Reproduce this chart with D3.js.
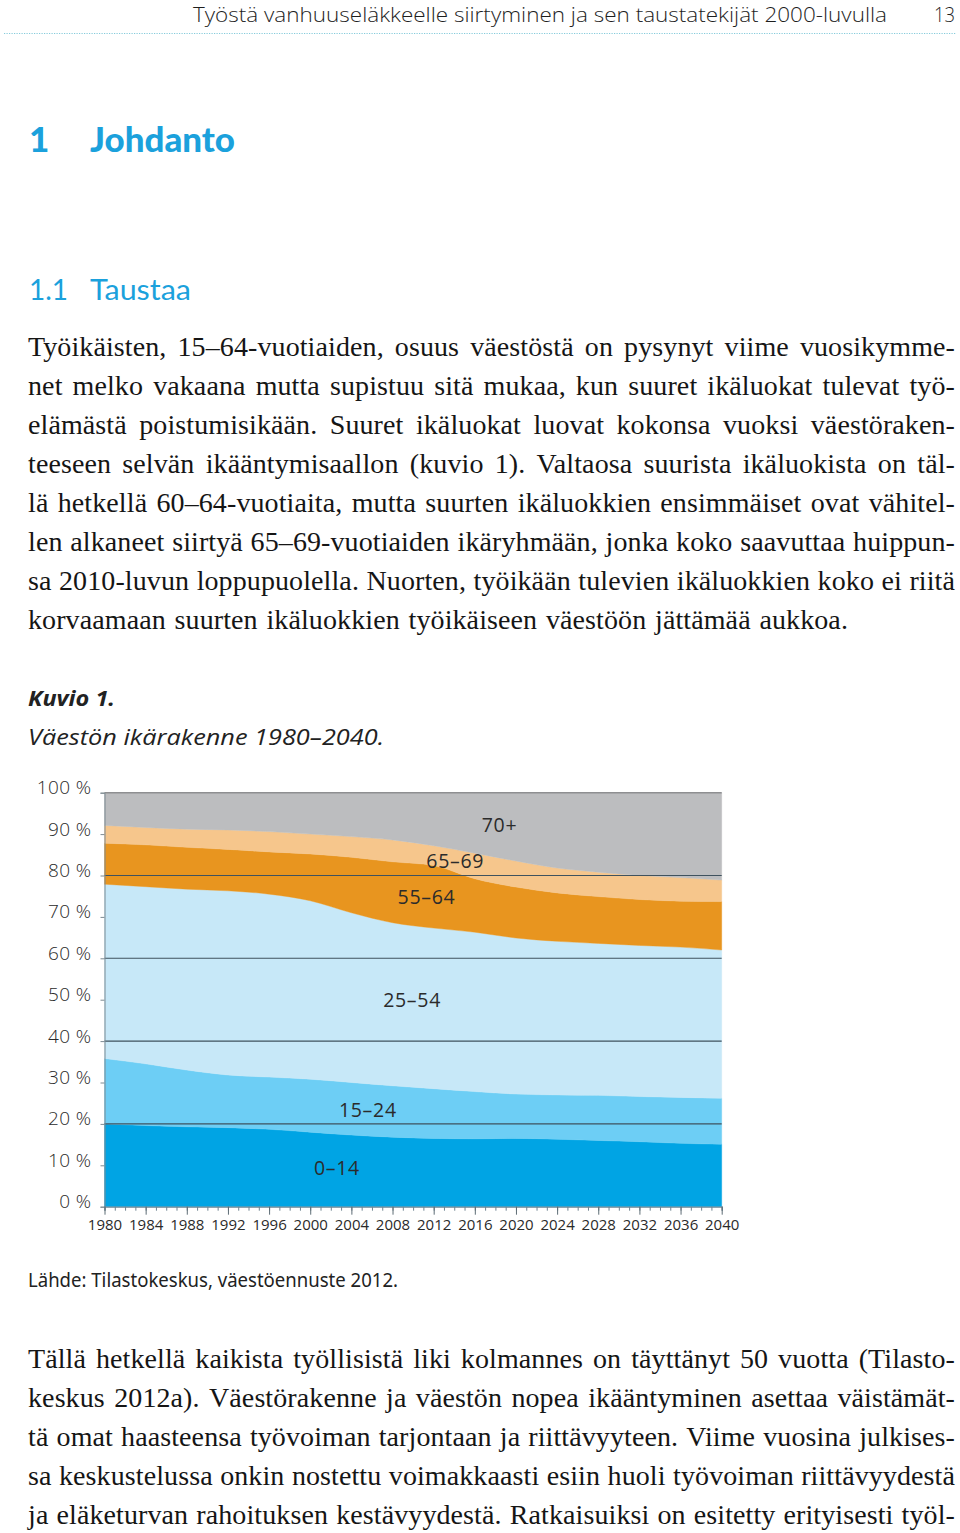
<!DOCTYPE html>
<html><head><meta charset="utf-8">
<script src="https://cdn.jsdelivr.net/npm/d3@7"></script>
<style>
html,body{margin:0;padding:0;background:#fff;}
svg{display:block;}
</style></head><body>
<svg id="page" width="960" height="1533"></svg>
<script>
// ---------- DATA (shares of population, %) ----------
const years = [1980,1984,1988,1992,1996,2000,2004,2008,2012,2016,2020,2024,2028,2032,2036,2040];
const ageGroups = ["0–14","15–24","25–54","55–64","65–69","70+"];
const share0_14  = [20.0,19.6,19.3,19.1,18.7,18.0,17.3,16.8,16.5,16.4,16.5,16.3,16.0,15.7,15.3,15.1];
const share15_24 = [15.8,14.9,13.7,12.7,12.6,12.8,12.7,12.4,12.0,11.4,10.7,10.7,10.9,10.9,11.1,11.1];
const share25_54 = [42.1,42.8,43.7,44.5,44.2,43.1,41.0,39.4,38.8,38.5,37.7,37.1,36.7,36.5,36.3,35.8];
const share55_64 = [9.9,10.1,10.1,10.0,10.2,11.3,13.4,14.7,15.1,12.9,12.3,11.7,11.3,11.1,11.1,11.7];
const share65_69 = [4.3,4.2,4.4,4.7,4.9,4.8,5.0,5.3,4.8,6.2,6.3,6.0,5.9,5.8,5.7,5.2];
const share70    = [7.9,8.4,8.8,9.0,9.4,10.0,10.6,11.4,12.8,14.6,16.5,18.2,19.2,20.0,20.5,21.1];
const yTickValues = [0,10,20,30,40,50,60,70,80,90,100];
const xTickLabels = [1980,1984,1988,1992,1996,2000,2004,2008,2012,2016,2020,2024,2028,2032,2036,2040];

// text content
const headerText = "Työstä vanhuuseläkkeelle siirtyminen ja sen taustatekijät 2000-luvulla";
const para1 = [
 "Työikäisten, 15–64-vuotiaiden, osuus väestöstä on pysynyt viime vuosikymme-",
 "net melko vakaana mutta supistuu sitä mukaa, kun suuret ikäluokat tulevat työ-",
 "elämästä poistumisikään. Suuret ikäluokat luovat kokonsa vuoksi väestöraken-",
 "teeseen selvän ikääntymisaallon (kuvio 1). Valtaosa suurista ikäluokista on täl-",
 "lä hetkellä 60–64-vuotiaita, mutta suurten ikäluokkien ensimmäiset ovat vähitel-",
 "len alkaneet siirtyä 65–69-vuotiaiden ikäryhmään, jonka koko saavuttaa huippun-",
 "sa 2010-luvun loppupuolella. Nuorten, työikään tulevien ikäluokkien koko ei riitä",
 "korvaamaan suurten ikäluokkien työikäiseen väestöön jättämää aukkoa."
];
const para2 = [
 "Tällä hetkellä kaikista työllisistä liki kolmannes on täyttänyt 50 vuotta (Tilasto-",
 "keskus 2012a). Väestörakenne ja väestön nopea ikääntyminen asettaa väistämät-",
 "tä omat haasteensa työvoiman tarjontaan ja riittävyyteen. Viime vuosina julkises-",
 "sa keskustelussa onkin nostettu voimakkaasti esiin huoli työvoiman riittävyydestä",
 "ja eläketurvan rahoituksen kestävyydestä. Ratkaisuiksi on esitetty erityisesti työl-"
];

// ---------- STYLE ----------
const colors = ["#00a4e4","#6dcef5","#c7e8f8","#e8951f","#f6c68c","#bcbdbf"];
const blue = "#1ba1dc";
const svg = d3.select("#page");

// header
svg.append("text").attr("x",193).attr("y",22).attr("font-family","Open Sans").attr("font-weight",300).attr("font-size",21)
  .attr("fill","#1e1e1e").attr("textLength",694).attr("lengthAdjust","spacingAndGlyphs").text(headerText);
svg.append("text").attr("x",934).attr("y",22).attr("font-family","Open Sans").attr("font-weight",300).attr("font-size",21)
  .attr("fill","#1e1e1e").attr("textLength",21).attr("lengthAdjust","spacingAndGlyphs").text("13");
svg.append("line").attr("x1",4).attr("x2",956).attr("y1",33.5).attr("y2",33.5)
  .attr("stroke","#86cbdb").attr("stroke-width",1.2).attr("stroke-dasharray","1.2,1.3");

// headings
svg.append("text").attr("x",29).attr("y",152).attr("font-family","Lato").attr("font-weight","900")
  .attr("font-size",35).attr("fill",blue).text("1");
svg.append("text").attr("x",90).attr("y",152).attr("font-family","Lato").attr("font-weight","900")
  .attr("font-size",35).attr("fill",blue).attr("textLength",145).attr("lengthAdjust","spacingAndGlyphs").text("Johdanto");
svg.append("text").attr("x",29).attr("y",300).attr("font-family","Lato")
  .attr("font-size",29).attr("fill",blue).attr("textLength",39).attr("lengthAdjust","spacingAndGlyphs").text("1.1");
svg.append("text").attr("x",90).attr("y",300).attr("font-family","Lato")
  .attr("font-size",29).attr("fill",blue).attr("textLength",101).attr("lengthAdjust","spacingAndGlyphs").text("Taustaa");

// justified body text, word by word
function justifyLine(str, x0, x1, yb) {
  const words = str.split(" ");
  const g = svg.append("g").attr("font-family","Liberation Serif").attr("font-size",28)
    .attr("letter-spacing","0.1px").attr("fill","#151515");
  const nodes = words.map(w => g.append("text").attr("y",yb).text(w));
  const widths = nodes.map(n => n.node().getComputedTextLength());
  const total = d3.sum(widths);
  const gap = words.length > 1 ? (x1 - x0 - total) / (words.length - 1) : 0;
  let x = x0;
  nodes.forEach((n,i) => { n.attr("x", x); x += widths[i] + gap; });
}
para1.forEach((l,i) => justifyLine(l, 28, i === para1.length-1 ? 848 : 955, 356 + i*39));
para2.forEach((l,i) => justifyLine(l, 28, 955, 1368 + i*39));

// caption
svg.append("text").attr("x",28).attr("y",706).attr("font-family","Open Sans").attr("font-style","italic")
  .attr("font-weight","bold").attr("font-size",22).attr("fill","#222").attr("textLength",87)
  .attr("lengthAdjust","spacingAndGlyphs").text("Kuvio 1.");
svg.append("text").attr("x",28).attr("y",745).attr("font-family","Open Sans").attr("font-style","italic")
  .attr("font-size",22).attr("fill","#222").attr("textLength",356)
  .attr("lengthAdjust","spacingAndGlyphs").text("Väestön ikärakenne 1980–2040.");
svg.append("text").attr("x",28).attr("y",1287).attr("font-family","Noto Sans")
  .attr("font-size",19).attr("fill","#222").attr("textLength",370)
  .attr("lengthAdjust","spacingAndGlyphs").text("Lähde: Tilastokeskus, väestöennuste 2012.");

// ---------- CHART ----------
const table = years.map((yr,i) => ({
  year: yr,
  [ageGroups[0]]: share0_14[i], [ageGroups[1]]: share15_24[i], [ageGroups[2]]: share25_54[i],
  [ageGroups[3]]: share55_64[i], [ageGroups[4]]: share65_69[i], [ageGroups[5]]: share70[i]
}));
const stacked = d3.stack().keys(ageGroups).offset(d3.stackOffsetExpand)(table);

const x = d3.scaleLinear().domain([1980,2040]).range([104.5,721.7]);
const y = d3.scaleLinear().domain([0,100]).range([1206.7,792.7]);

const area = d3.area().x(d => x(d.data.year)).y0(d => y(d[0]*100)).y1(d => y(d[1]*100)).curve(d3.curveMonotoneX);
const chart = svg.append("g");
chart.selectAll("path.layer").data(stacked).join("path").attr("class","layer")
  .attr("d", area).attr("fill",(d,i) => colors[i]).attr("stroke",(d,i)=>colors[i]).attr("stroke-width",0.4);

// gridlines
chart.selectAll("line.grid").data([20,40,60,80]).join("line").attr("class","grid")
  .attr("x1",x(1980)).attr("x2",x(2040)).attr("y1",d=>y(d)).attr("y2",d=>y(d))
  .attr("stroke","#3f525e").attr("stroke-width",1.1);
chart.append("line").attr("x1",x(1980)).attr("x2",x(2040)).attr("y1",y(100)).attr("y2",y(100))
  .attr("stroke","#8e8f91").attr("stroke-width",1.5);

// y axis
const yAxis = d3.axisLeft(y).tickValues(yTickValues).tickSize(4).tickPadding(9).tickFormat(d => d + " %");
const gy = svg.append("g").attr("transform",`translate(${x(1980)},0)`).call(yAxis);
gy.select(".domain").attr("stroke","#7d8a92");
gy.selectAll(".tick line").attr("stroke","#7d8a92");
gy.selectAll("text").attr("font-family","Open Sans").attr("font-weight",300).attr("font-size",19)
  .attr("letter-spacing","0.4px").attr("fill","#2a2a2a").attr("dy","0.05em");

// x axis: minor yearly ticks + major labelled ticks
const gxMinor = svg.append("g").attr("transform",`translate(0,${y(0)})`)
  .call(d3.axisBottom(x).tickValues(d3.range(1980,2041)).tickSize(4).tickFormat(""));
gxMinor.select(".domain").attr("stroke","#6f8592").attr("stroke-width",1.2);
gxMinor.selectAll(".tick line").attr("stroke","#6f8592");
const gx = svg.append("g").attr("transform",`translate(0,${y(0)})`)
  .call(d3.axisBottom(x).tickValues(xTickLabels).tickSize(8).tickPadding(5).tickFormat(d3.format("d")));
gx.select(".domain").remove();
gx.selectAll(".tick line").attr("stroke","#5d6c75");
gx.selectAll("text").attr("font-family","Open Sans").attr("font-size",15).attr("fill","#2a2a2a");

// series labels (anchored in data coordinates)
const seriesLabels = [
  {t:"70+",   yr:2018.4, v:92.2},
  {t:"65–69", yr:2014.1, v:83.5},
  {t:"55–64", yr:2011.3, v:74.8},
  {t:"25–54", yr:2009.9, v:49.9},
  {t:"15–24", yr:2005.6, v:23.4},
  {t:"0–14",  yr:2002.6, v:9.3}
];
svg.append("g").selectAll("text").data(seriesLabels).join("text")
  .attr("x",d=>x(d.yr)).attr("y",d=>y(d.v)).attr("dy","0.36em").attr("text-anchor","middle")
  .attr("font-family","Open Sans").attr("font-size",19.5).attr("letter-spacing","0.7px").attr("fill","#2b2b2b")
  .text(d=>d.t);
</script>
</body></html>
